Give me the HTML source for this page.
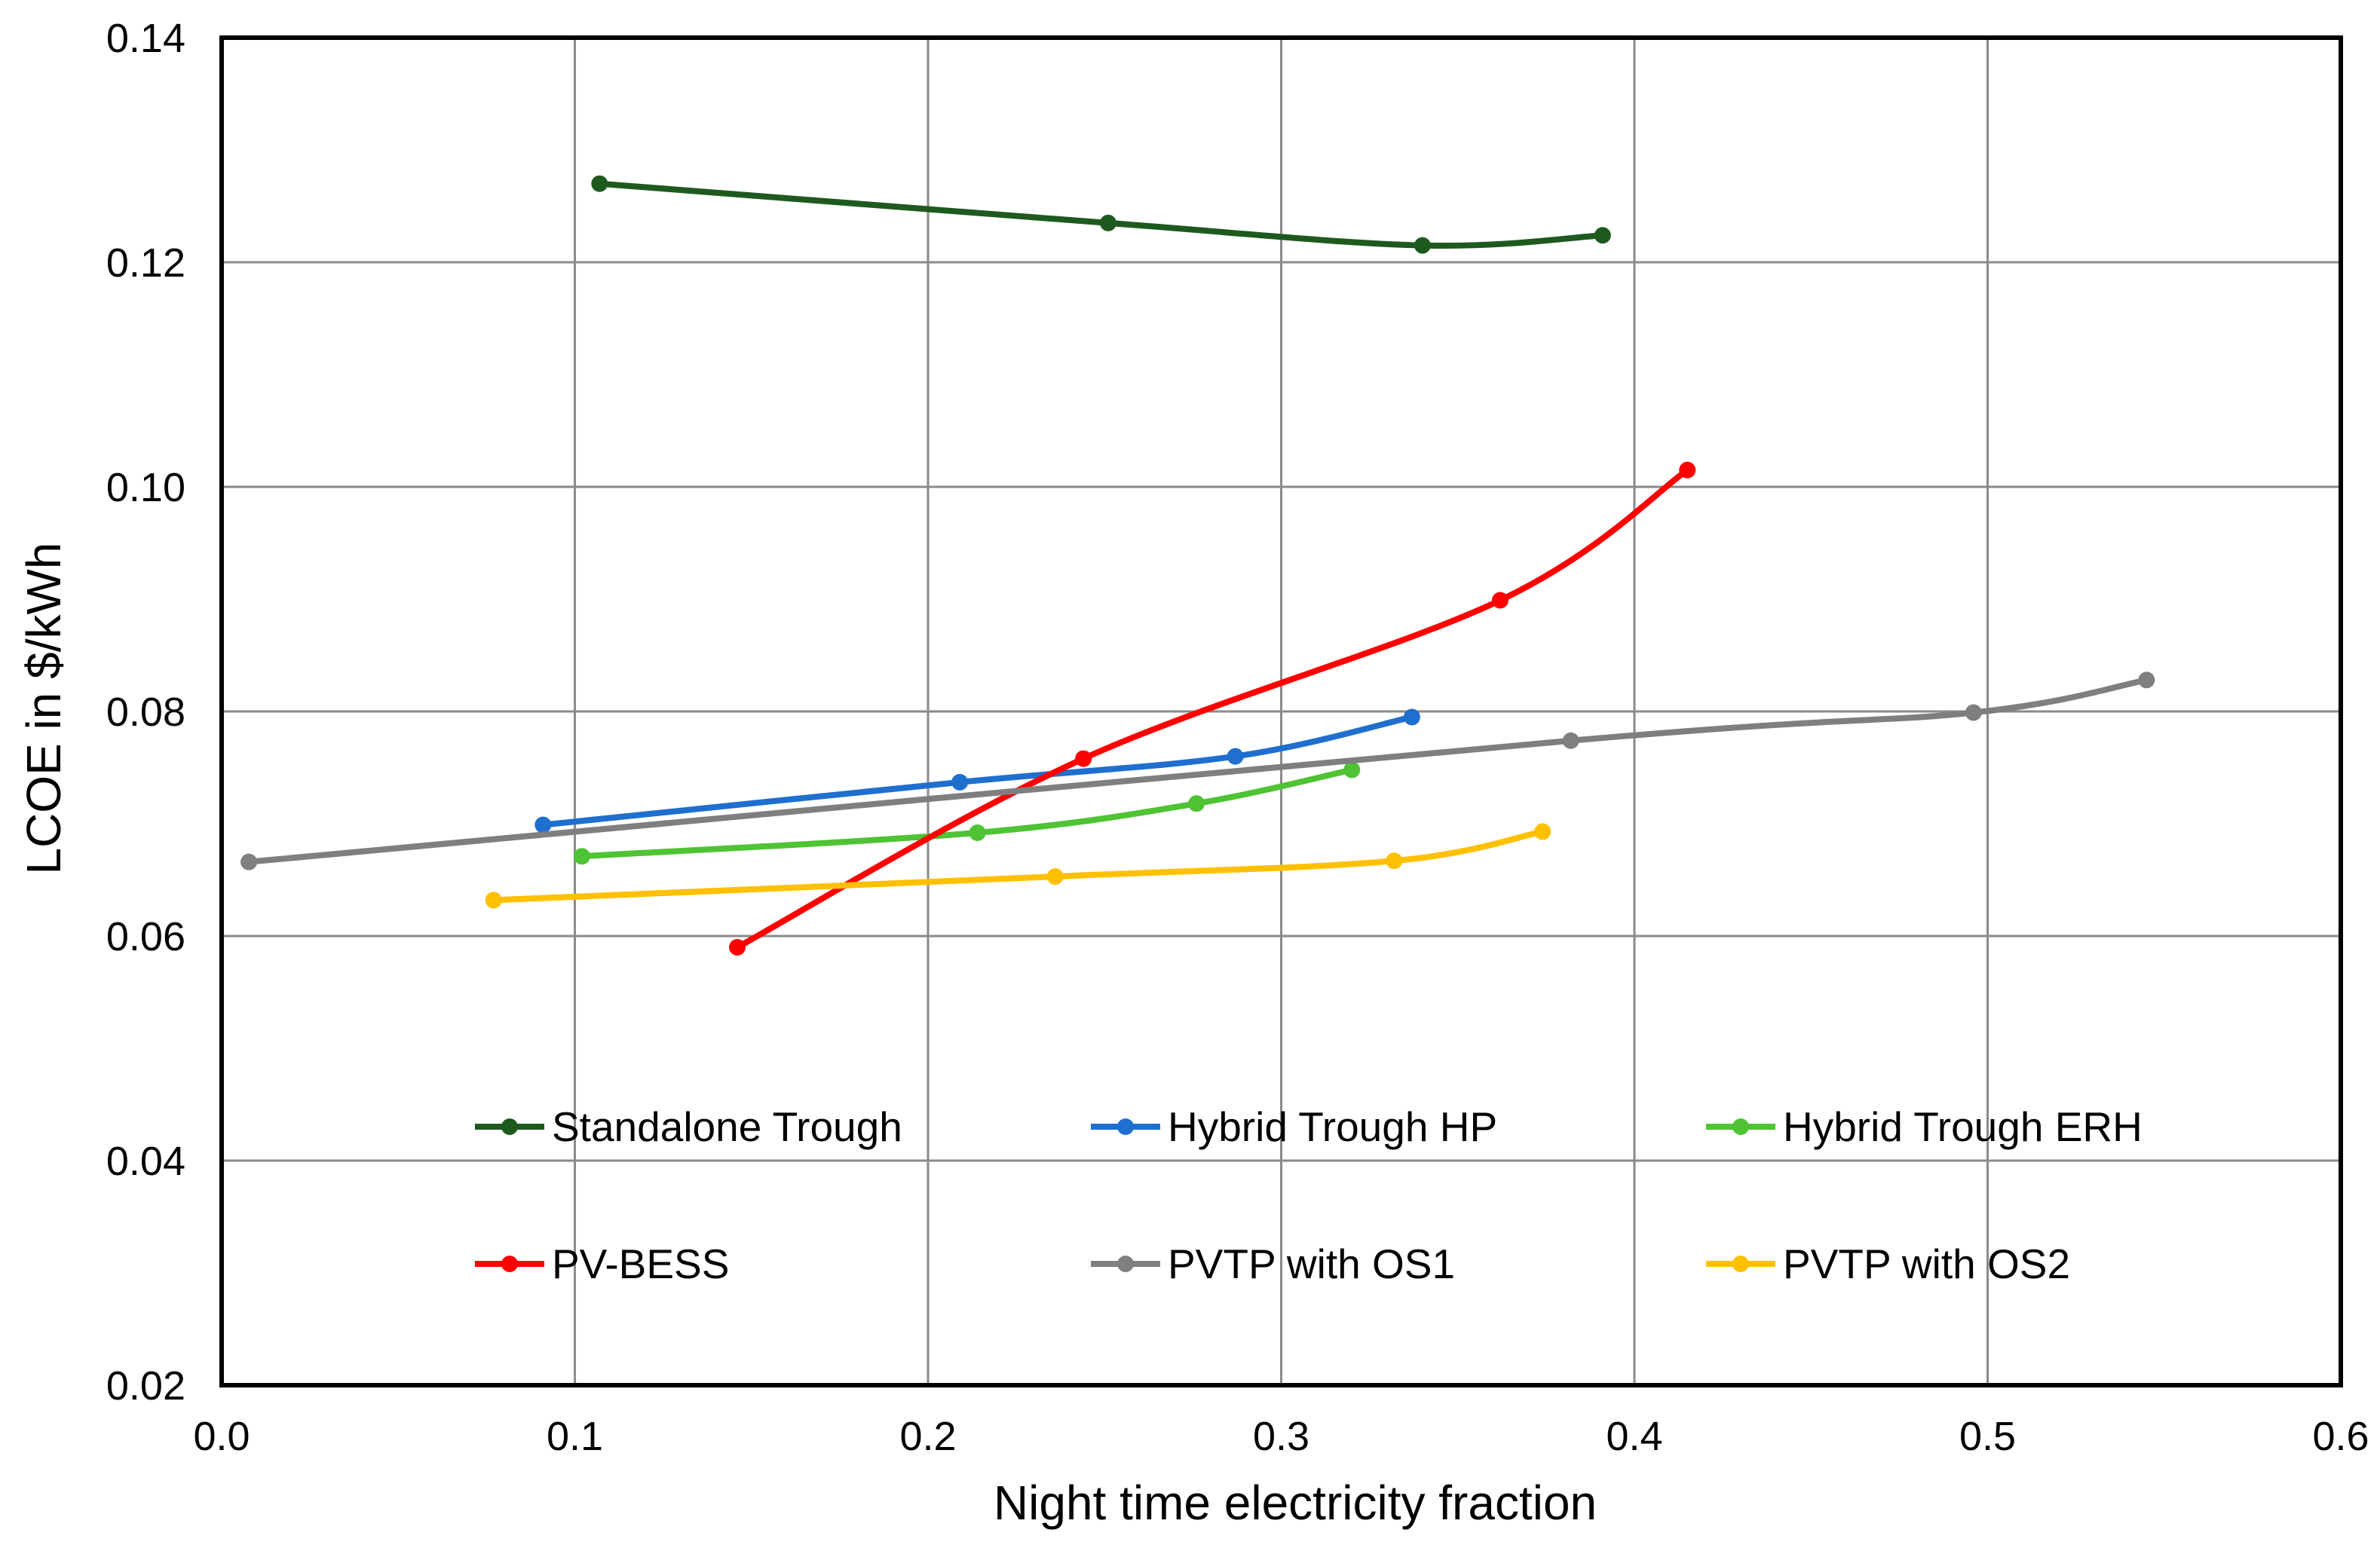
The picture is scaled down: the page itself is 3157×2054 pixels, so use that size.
<!DOCTYPE html>
<html><head><meta charset="utf-8"><style>
html,body{margin:0;padding:0;background:#fff;}
svg{display:block;font-family:"Liberation Sans",sans-serif;}
</style></head><body>
<svg id="chart" width="3157" height="2054" viewBox="0 0 3157 2054" xmlns="http://www.w3.org/2000/svg">
<g id="grid"></g>
<g id="series"></g>
<rect x="294" y="50" width="2811" height="1788" fill="none" stroke="#000" stroke-width="6"/>
<g id="ticks"></g>
<g id="legend"></g>
<text x="1718" y="2016" font-size="64" text-anchor="middle" fill="#000">Night time electricity fraction</text>
<text x="0" y="0" transform="translate(80,940) rotate(-90)" font-size="64" text-anchor="middle" fill="#000">LCOE in $/kWh</text>
</svg>
<script>
const xTicks = [0.0, 0.1, 0.2, 0.3, 0.4, 0.5, 0.6];
const yTicks = [0.02, 0.04, 0.06, 0.08, 0.10, 0.12, 0.14];
const seriesNames = ["Standalone Trough","Hybrid Trough HP","Hybrid Trough ERH","PV-BESS","PVTP with OS1","PVTP with OS2"];
const seriesColors = ["#1e5a1e","#1f6fcf","#4fc334","#ff0000","#7f7f7f","#ffc000"];
const standaloneX = [0.107, 0.251, 0.340, 0.391];
const standaloneY = [0.1270, 0.1235, 0.1215, 0.1224];
const hpX = [0.091, 0.209, 0.287, 0.337];
const hpY = [0.0699, 0.0737, 0.0760, 0.0795];
const erhX = [0.102, 0.214, 0.276, 0.320];
const erhY = [0.0671, 0.0692, 0.0718, 0.0748];
const bessX = [0.146, 0.244, 0.362, 0.415];
const bessY = [0.0590, 0.0758, 0.0899, 0.1015];
const os1X = [0.0077, 0.382, 0.496, 0.545];
const os1Y = [0.0666, 0.0774, 0.0799, 0.0828];
const os2X = [0.077, 0.236, 0.332, 0.374];
const os2Y = [0.0632, 0.0653, 0.0667, 0.0693];

const NS="http://www.w3.org/2000/svg";
const L=294,R=3105,T=50,B=1838;
const sx=v=>L+(v-0)/(0.6-0)*(R-L);
const sy=v=>B-(v-0.02)/(0.14-0.02)*(B-T);
function mk(tag,attrs,parent){const e=document.createElementNS(NS,tag);for(const k in attrs)e.setAttribute(k,attrs[k]);parent.appendChild(e);return e;}
const grid=document.getElementById('grid'),ticks=document.getElementById('ticks');
xTicks.forEach(v=>{
  const l=mk('line',{x1:sx(v),x2:sx(v),y1:T,y2:B,stroke:'#8a8a8a','stroke-width':3},grid);
  
  
  const t=mk('text',{x:sx(v),y:1924,'font-size':54,'text-anchor':'middle',fill:'#000'},ticks);
  t.textContent=v.toFixed(1);
  
  
});
yTicks.forEach(v=>{
  const l=mk('line',{x1:L,x2:R,y1:sy(v),y2:sy(v),stroke:'#8a8a8a','stroke-width':3},grid);
  
  
  const t=mk('text',{x:246,y:sy(v)+19,'font-size':54,'text-anchor':'end',fill:'#000'},ticks);
  t.textContent=v.toFixed(2);
  
  
});
function smooth(pts){
  let d=`M${pts[0][0]},${pts[0][1]}`;
  for(let i=0;i<pts.length-1;i++){
    const p0=pts[i-1]||pts[i],p1=pts[i],p2=pts[i+1],p3=pts[i+2]||p2;
    const t=0.5/3;
    const c1=[p1[0]+(p2[0]-p0[0])*t,p1[1]+(p2[1]-p0[1])*t];
    const c2=[p2[0]-(p3[0]-p1[0])*t,p2[1]-(p3[1]-p1[1])*t];
    d+=` C${c1[0]},${c1[1]} ${c2[0]},${c2[1]} ${p2[0]},${p2[1]}`;
  }
  return d;
}
const xs=[standaloneX,hpX,erhX,bessX,os1X,os2X], ys=[standaloneY,hpY,erhY,bessY,os1Y,os2Y];
const sg=document.getElementById('series');
const slug=["standalone-trough","hybrid-trough-hp","hybrid-trough-erh","pv-bess","pvtp-os1","pvtp-os2"];
xs.forEach((X,i)=>{
  const pts=X.map((x,j)=>[sx(x),sy(ys[i][j])]);
  const p=mk('path',{d:smooth(pts),fill:'none',stroke:seriesColors[i],'stroke-width':8,'stroke-linecap':'round'},sg);
  
  
  pts.forEach(q=>{
    const c=mk('circle',{cx:q[0],cy:q[1],r:11,fill:seriesColors[i]},sg);
    
    
  });
});
const lg=document.getElementById('legend');
const colX=[630,1447,2263], rowY=[1495,1677];
seriesNames.forEach((n,i)=>{
  const x=colX[i%3], y=rowY[Math.floor(i/3)];
  const g=mk('g',{},lg);
  
  
  mk('line',{x1:x,x2:x+92,y1:y,y2:y,stroke:seriesColors[i],'stroke-width':8},g);
  mk('circle',{cx:x+46,cy:y,r:11,fill:seriesColors[i]},g);
  const t=mk('text',{x:x+102,y:y+19,'font-size':55,fill:'#000'},g);
  t.textContent=n;
});
</script>
</body></html>
